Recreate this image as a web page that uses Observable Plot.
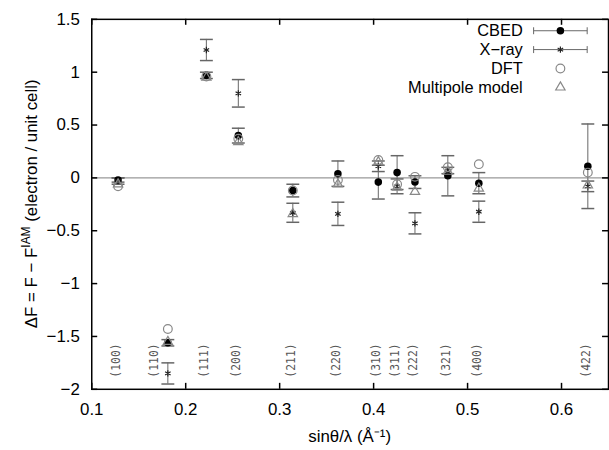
<!DOCTYPE html>
<html><head><meta charset="utf-8">
<script src="https://cdn.jsdelivr.net/npm/d3@7"></script>
<script src="https://cdn.jsdelivr.net/npm/@observablehq/plot@0.6"></script>
<style>html,body{margin:0;padding:0;overflow:hidden;background:#fff}</style>
</head><body><div id="chart"></div>
<script>
// ---- data ----
const hkl = ["(100)","(110)","(111)","(200)","(211)","(220)","(310)","(311)","(222)","(321)","(400)","(422)"];
const sinThetaOverLambda = [0.128,0.181,0.222,0.256,0.314,0.362,0.405,0.425,0.444,0.479,0.512,0.628];
const cbed      = [-0.02,-1.56, 0.97, 0.40,-0.12, 0.04,-0.04, 0.05,-0.04, 0.02,-0.05, 0.11];
const cbedErr   = [ 0.02, 0.03, 0.03, 0.07, 0.06, 0.12, 0.16, 0.16, 0.06, 0.19, 0.10, 0.40];
const xray      = [-0.03,-1.85, 1.21, 0.80,-0.33,-0.34, 0.11,-0.08,-0.43, 0.07,-0.32,-0.08];
const xrayErr   = [ 0.03, 0.10, 0.10, 0.13, 0.09, 0.11, 0.05, 0.07, 0.10, 0.03, 0.10, 0.05];
const dft       = [-0.08,-1.43, 0.96, 0.37,-0.12,-0.02, 0.17,-0.06, 0.01, 0.10, 0.13, 0.05];
const multipole = [-0.06,-1.55, 0.95, 0.34,-0.34,-0.06, 0.15,-0.09,-0.13, 0.06,-0.10,-0.07];
const xTicks = [0.1,0.2,0.3,0.4,0.5,0.6];
const yTicks = [1.5,1,0.5,0,-0.5,-1,-1.5,-2];
const seriesNames = ["CBED","X\u2212ray","DFT","Multipole model"];

const rows = hkl.map((h,i)=>({hkl:h, x:sinThetaOverLambda[i], cbed:cbed[i], cbedErr:cbedErr[i],
  xray:xray[i], xrayErr:xrayErr[i], dft:dft[i], mp:multipole[i]}));

// ---- layout ----
const W = 614, H = 450, mL = 92, mT = 19, mB = 58, mR = 1;
const frameW = W - mL - mR, frameH = H - mT - mB;
const FONT = "Liberation Sans, Arial, Helvetica, sans-serif";
const FS = 17, LFS = 16.5;
const errColor = "#666", openColor = "#888";
const cap = {draw(ctx){ ctx.moveTo(-6.5,0); ctx.lineTo(6.5,0); }};
const hklStyle = {fontFamily: "DejaVu Sans Mono, monospace", fontSize: 11.5, fill: "#555", rotate: -90, textAnchor: "middle", frameAnchor: "bottom", dy: -29};

const chart = Plot.plot({
  width: W, height: H, marginLeft: mL, marginTop: mT, marginBottom: mB, marginRight: mR,
  style: {fontFamily: FONT, fontSize: FS + "px", background: "white", color: "black"},
  x: {domain: [0.1, 0.65]},
  y: {domain: [-2, 1.5]},
  marks: [
    Plot.ruleY([0], {stroke: "#999", strokeWidth: 1.2}),
    // x-ray error bars
    Plot.ruleX(rows, {x: "x", y1: d => d.xray - d.xrayErr, y2: d => d.xray + d.xrayErr, stroke: errColor}),
    Plot.dot(rows, {x: "x", y: d => d.xray - d.xrayErr, symbol: cap, r: 1, stroke: errColor, fill: "none"}),
    Plot.dot(rows, {x: "x", y: d => d.xray + d.xrayErr, symbol: cap, r: 1, stroke: errColor, fill: "none"}),
    // cbed error bars
    Plot.ruleX(rows, {x: "x", y1: d => d.cbed - d.cbedErr, y2: d => d.cbed + d.cbedErr, stroke: errColor}),
    Plot.dot(rows, {x: "x", y: d => d.cbed - d.cbedErr, symbol: cap, r: 1, stroke: errColor, fill: "none"}),
    Plot.dot(rows, {x: "x", y: d => d.cbed + d.cbedErr, symbol: cap, r: 1, stroke: errColor, fill: "none"}),
    // points
    Plot.dot(rows, {x: "x", y: "cbed", r: 3.8, fill: "black", stroke: "none"}),
    Plot.dot(rows, {x: "x", y: "xray", symbol: "asterisk", r: 3, stroke: "#222", fill: "none", strokeWidth: 1.2}),
    Plot.dot(rows, {x: "x", y: "dft", symbol: "circle", r: 4.4, stroke: openColor, fill: "none", strokeWidth: 1.2}),
    Plot.dot(rows, {x: "x", y: "mp", symbol: "triangle", r: 3.5, stroke: openColor, fill: "none", strokeWidth: 1.2}),
    // hkl labels
    Plot.text(rows.filter(d => d.hkl !== "(110)"), {x: "x", text: "hkl", dx: 2, ...hklStyle}),
    Plot.text(rows.filter(d => d.hkl === "(110)"), {x: "x", text: "hkl", dx: -10, ...hklStyle}),
    // frame & inward ticks
    Plot.frame({stroke: "black", strokeWidth: 1.5}),
    Plot.tickX(xTicks, {x: d => d, insetTop: frameH - 6, stroke: "black", strokeWidth: 1.5}),
    Plot.tickX(xTicks, {x: d => d, insetBottom: frameH - 6, stroke: "black", strokeWidth: 1.5}),
    Plot.tickY(yTicks, {y: d => d, insetRight: frameW - 6, stroke: "black", strokeWidth: 1.5}),
    Plot.tickY(yTicks, {y: d => d, insetLeft: frameW - 6, stroke: "black", strokeWidth: 1.5}),
    Plot.axisX({ticks: xTicks, tickSize: 0, tickPadding: 14, tickFormat: d3.format("~g"), label: null}),
    Plot.axisY({ticks: yTicks, tickSize: 0, tickPadding: 12, tickFormat: d3.format("~g"), label: null})
  ]
});
document.getElementById("chart").appendChild(chart);

// ---- titles & legend ----
const svg = d3.select(chart);
svg.append("text").attr("x", mL + frameW/2).attr("y", 446).attr("text-anchor", "middle")
  .attr("font-family", FONT).attr("font-size", FS).attr("fill", "black").text("sin\u03b8/\u03bb (\u00c5\u207b\u00b9)");
const yt = svg.append("text").attr("transform", `translate(31,${mT + frameH/2}) rotate(-90)`)
  .attr("text-anchor", "middle").attr("dy", "0.35em").attr("font-family", FONT).attr("font-size", FS).attr("fill", "black");
yt.append("tspan").text("\u0394F = F \u2212 F");
yt.append("tspan").attr("dy", -7).attr("font-size", 12).text("IAM");
yt.append("tspan").attr("dy", 7).text(" (electron / unit cell)");

const lg = svg.append("g").attr("font-family", FONT).attr("font-size", LFS).attr("fill", "black");
const rowY = [31, 50, 69, 88];
const textX = 527, symX = 565, lineX1 = 538, lineX2 = 592;
seriesNames.forEach((name, i) => {
  lg.append("text").attr("x", textX).attr("y", rowY[i]).attr("dy", "0.35em").attr("text-anchor", "end").text(name);
});
[0, 1].forEach(i => {
  const y = rowY[i];
  lg.append("line").attr("x1", lineX1).attr("x2", lineX2).attr("y1", y).attr("y2", y).attr("stroke", errColor);
  lg.append("line").attr("x1", lineX1).attr("x2", lineX1).attr("y1", y - 3.5).attr("y2", y + 3.5).attr("stroke", errColor);
  lg.append("line").attr("x1", lineX2).attr("x2", lineX2).attr("y1", y - 3.5).attr("y2", y + 3.5).attr("stroke", errColor);
});
lg.append("circle").attr("cx", symX).attr("cy", rowY[0]).attr("r", 3.8).attr("fill", "black");
lg.append("path").attr("transform", `translate(${symX},${rowY[1]})`).attr("d", d3.symbol(d3.symbolAsterisk, 28)())
  .attr("stroke", "#222").attr("fill", "none").attr("stroke-width", 1.2);
lg.append("circle").attr("cx", symX).attr("cy", rowY[2]).attr("r", 4.4).attr("fill", "none").attr("stroke", openColor).attr("stroke-width", 1.2);
lg.append("path").attr("transform", `translate(${symX},${rowY[3]})`).attr("d", d3.symbol(d3.symbolTriangle, Math.PI*3.5*3.5)())
  .attr("stroke", openColor).attr("fill", "none").attr("stroke-width", 1.2);
</script>
</body></html>
